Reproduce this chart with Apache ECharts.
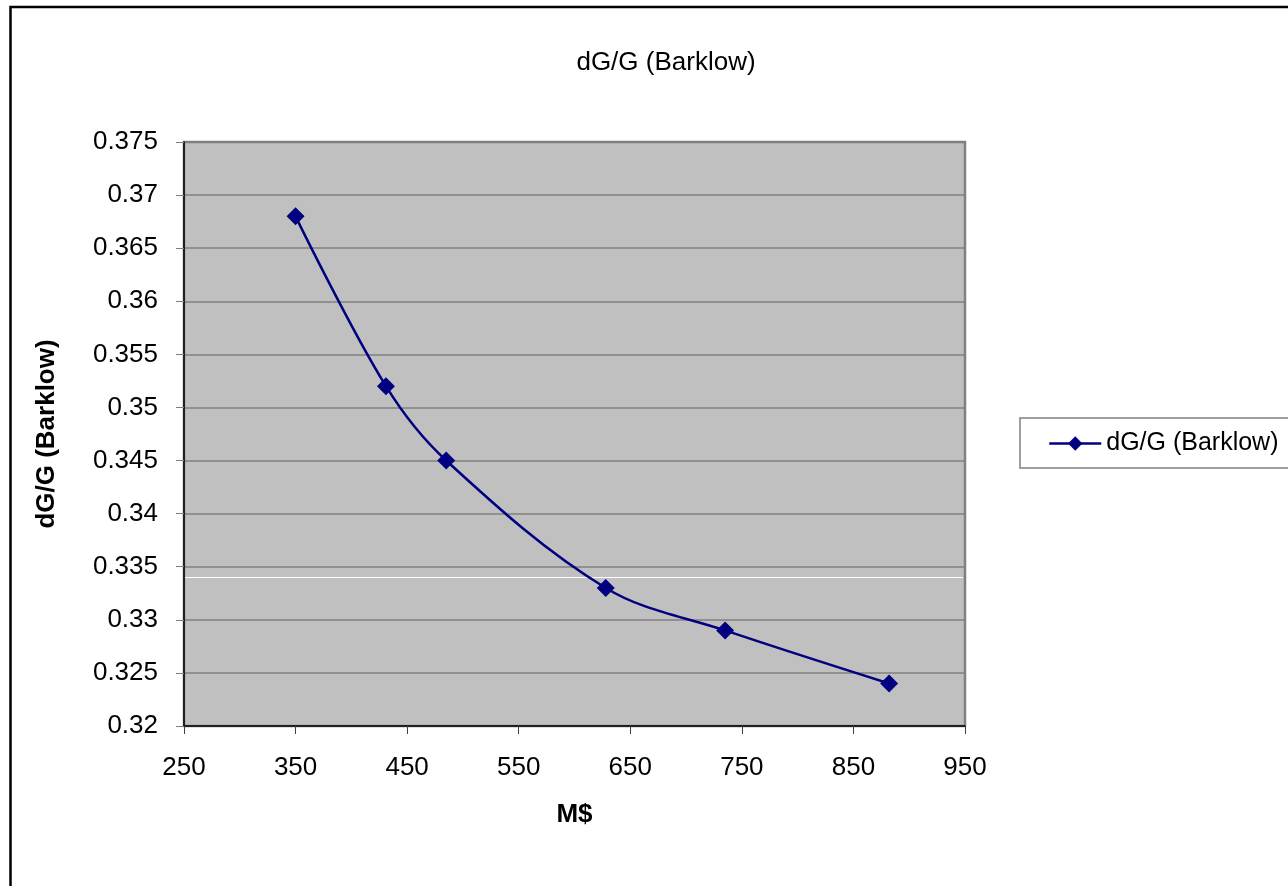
<!DOCTYPE html>
<html>
<head>
<meta charset="utf-8">
<title>dG/G (Barklow)</title>
<script src="https://cdn.jsdelivr.net/npm/echarts@6/dist/echarts.min.js"></script>
<style>
  html, body { margin: 0; padding: 0; background: #ffffff; }
  #chart { width: 1288px; height: 886px; }
</style>
</head>
<body>
<div id="chart"></div>
<script>
// Cost (M$) against dG/G for the Barklow configuration
const costMS = [350, 431, 485, 628, 735, 882];
const dGoverG = [0.368, 0.352, 0.345, 0.333, 0.329, 0.324];
const seriesName = 'dG/G (Barklow)';
const refLine = 0.334;

const FONT = 'Liberation Sans, Arial, sans-serif';
const chart = echarts.init(document.getElementById('chart'), null, { renderer: 'canvas' });

chart.setOption({
  animation: false,
  backgroundColor: '#ffffff',
  textStyle: { fontFamily: FONT },
  title: {
    text: seriesName,
    left: 661, top: 45, textAlign: 'center',
    textStyle: { fontFamily: FONT, fontSize: 26, fontWeight: 'normal', color: '#000' }
  },
  legend: {
    left: 1020, top: 418,
    orient: 'vertical',
    padding: [13, 40, 12, 28],
    borderColor: '#808080', borderWidth: 1.5,
    backgroundColor: '#fff',
    itemWidth: 52, itemHeight: 18,
    lineStyle: { width: 2.5 },
    textStyle: { fontFamily: FONT, fontSize: 25, color: '#000' },
    data: [seriesName]
  },
  grid: {
    left: 184, top: 142, width: 781, height: 584,
    show: true, backgroundColor: '#C0C0C0',
    borderColor: '#808080', borderWidth: 2.5
  },
  xAxis: {
    type: 'value', min: 250, max: 950, interval: 100,
    name: 'M$', nameLocation: 'middle', nameGap: 76,
    nameTextStyle: { fontFamily: FONT, fontSize: 26, fontWeight: 'bold', color: '#000' },
    axisLine: { show: true, onZero: false, lineStyle: { color: '#000', width: 1.5 } },
    axisTick: { show: true, length: 8, lineStyle: { color: '#404040' } },
    axisLabel: { margin: 29, fontFamily: FONT, fontSize: 26, color: '#000' },
    splitLine: { show: false }
  },
  yAxis: {
    type: 'value', min: 0.32, max: 0.375, interval: 0.005,
    name: seriesName, nameLocation: 'middle', nameGap: 124,
    nameTextStyle: { fontFamily: FONT, fontSize: 26, fontWeight: 'bold', color: '#000' },
    axisLine: { show: true, onZero: false, lineStyle: { color: '#000', width: 1.5 } },
    axisTick: { show: true, length: 8, lineStyle: { color: '#808080' } },
    axisLabel: {
      margin: 26, fontFamily: FONT, fontSize: 26, color: '#000',
      formatter: v => String(+v.toFixed(3))
    },
    splitLine: { show: true, lineStyle: { color: '#808080', width: 1.5 } }
  },
  series: [{
    name: seriesName,
    type: 'line',
    data: costMS.map((x, i) => [x, dGoverG[i]]),
    smooth: 0.35,
    symbol: 'diamond',
    symbolSize: 18,
    lineStyle: { color: '#000080', width: 2.5 },
    itemStyle: { color: '#000080' },
    z: 5
  }]
});

// White reference line across the plot area and the outer frame
function drawOverlay() {
  const y = Math.round(chart.convertToPixel({ yAxisIndex: 0 }, refLine)) + 0.5;
  const x0 = chart.convertToPixel({ xAxisIndex: 0 }, 250);
  const x1 = chart.convertToPixel({ xAxisIndex: 0 }, 950);
  chart.setOption({
    graphic: [
      {
        id: 'refline', type: 'line', z: 3, silent: true,
        shape: { x1: x0 + 1, y1: y, x2: x1 - 2, y2: y },
        style: { stroke: '#ffffff', lineWidth: 1.2 }
      },
      {
        id: 'frame', type: 'rect', z: 100, silent: true,
        shape: { x: 10.5, y: 7, width: 1300, height: 900 },
        style: { fill: 'none', stroke: '#000', lineWidth: 2.5 }
      }
    ]
  });
}
drawOverlay();
</script>
</body>
</html>
